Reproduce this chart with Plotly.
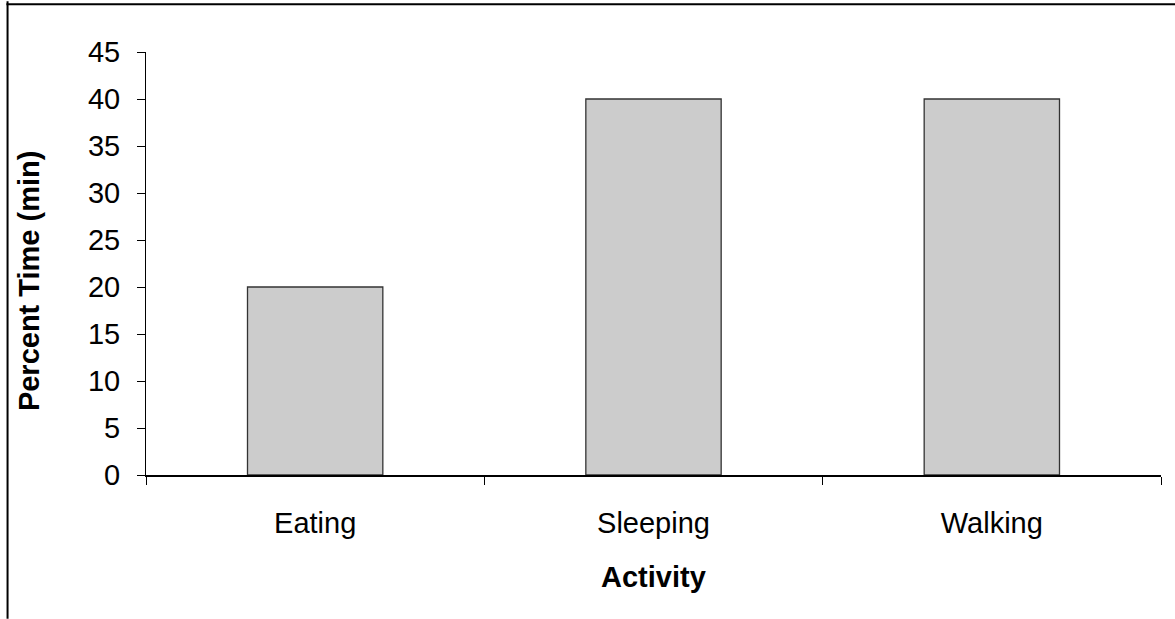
import plotly.graph_objects as go

activities = ["Eating", "Sleeping", "Walking"]
percent_time = [20, 40, 40]
y_ticks = [0, 5, 10, 15, 20, 25, 30, 35, 40, 45]

FONT = "Liberation Sans, Arial, sans-serif"
SIZE = 29

fig = go.Figure(
    go.Bar(
        x=activities,
        y=percent_time,
        width=0.4,
        marker=dict(color="#cccccc", line=dict(color="#333333", width=1.3)),
        hoverinfo="x+y",
    )
)

fig.update_layout(
    width=1175,
    height=619,
    margin=dict(l=146, r=14, t=52, b=144),
    paper_bgcolor="white",
    plot_bgcolor="white",
    font=dict(family=FONT, size=SIZE, color="black"),
    showlegend=False,
    xaxis=dict(
        showline=True,
        linecolor="black",
        linewidth=1.5,
        ticks="outside",
        tickson="boundaries",
        ticklen=8,
        tickcolor="black",
        tickwidth=1,
        tickfont=dict(size=SIZE),
        ticklabelstandoff=21,
        showgrid=False,
        zeroline=False,
    ),
    yaxis=dict(
        range=[0, 45],
        tickvals=y_ticks,
        showline=True,
        linecolor="black",
        linewidth=1,
        ticks="outside",
        ticklen=8,
        tickcolor="black",
        tickwidth=1,
        tickfont=dict(size=SIZE),
        ticklabelstandoff=11,
        showgrid=False,
        zeroline=False,
    ),
    annotations=[
        dict(text="<b>Activity</b>", xref="paper", yref="paper",
             x=0.5, y=-0.242, xanchor="center", yanchor="middle",
             showarrow=False, font=dict(size=SIZE)),
        dict(text="<b>Percent Time (min)</b>", xref="paper", yref="paper",
             x=-0.115, y=0.459, xanchor="center", yanchor="middle",
             textangle=-90, showarrow=False, font=dict(size=SIZE)),
    ],
    shapes=[
        # chart frame: top and left edges
        dict(type="line", xref="paper", yref="paper", x0=-0.1375, x1=1.02,
             y0=1.113, y1=1.113, line=dict(color="black", width=2)),
        dict(type="line", xref="paper", yref="paper", x0=-0.1364, x1=-0.1364,
             y0=1.12, y1=-0.34, line=dict(color="black", width=2)),
    ],
)

fig.write_html("out.html")
